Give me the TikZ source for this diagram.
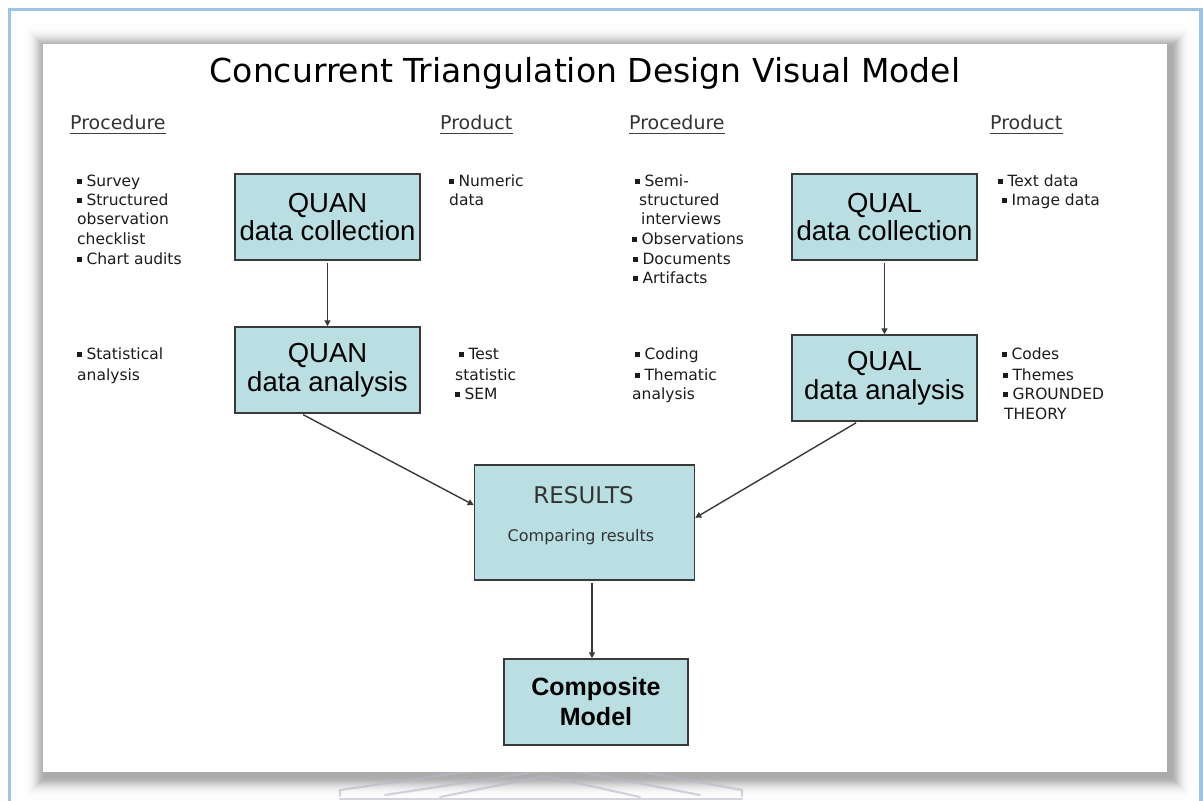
\documentclass[tikz,border=0pt]{standalone}
\usepackage{fontspec}
\setmainfont{DejaVu Sans}
\newfontfamily\arialf{Liberation Sans}
\usetikzlibrary{arrows.meta,calc}

\definecolor{boxfill}{RGB}{186,223,227}
\definecolor{boxline}{RGB}{58,58,58}
\definecolor{frameblue}{RGB}{157,195,230}
\definecolor{inktext}{RGB}{28,28,28}
\definecolor{marklogo}{RGB}{184,184,202}

% small square bullet used in the side lists
\newcommand{\bul}{\raisebox{0.26ex}{\rule{0.3em}{0.3em}}\hspace{0.3em}}

\begin{document}
\begin{tikzpicture}[x=1pt,y=-1pt,
  stage/.style={draw=boxline, line width=1.5pt, fill=boxfill, inner sep=0pt,
                minimum width=185pt, minimum height=86pt, align=center,
                font=\arialf\fontsize{27.5}{28.5}\selectfont, text=black},
  flow/.style={draw=boxline, line width=1.4pt, shorten <=2pt,
               -{Triangle[length=6pt,width=6pt]}},
  sidetxt/.style={anchor=base west, inner sep=0pt,
                  font=\fontsize{15.5}{19.5}\selectfont, text=inktext},
  colhead/.style={anchor=base west, inner sep=0pt,
                  font=\fontsize{19}{22}\selectfont, text=black!80}
]
\useasboundingbox (0,0) rectangle (1203,801);
\fill[white] (0,0) rectangle (1203,801);

% outer frame
\draw[frameblue, line width=3.5pt] (9.5,806) -- (9.5,9.5) -- (1201,9.5) -- (1201,806);

% soft drop shadow of the slide: opaque grey rings, lightest outside
\foreach \d in {24,23,...,0}{
  \pgfmathsetmacro\shadeval{33*exp(-(\d/10)^2)}
  \fill[black!\shadeval] (45-\d,47-\d) rectangle (1171+\d,777+\d);
}

% faint emblem peeking out below the slide
\begin{scope}[marklogo, line width=2.2pt, double=white!90!marklogo,
              double distance=2.2pt, line cap=round, opacity=0.6]
  \draw (340,799) -- (742,799);
  \draw (340,796) -- (340,790) -- (520,764);
  \draw (742,796) -- (742,790) -- (600,764);
  \draw (385,795) -- (560,768);
  \draw (700,795) -- (560,768);
  \draw (440,797) -- (545,776) -- (640,797);
\end{scope}

% slide
\fill[white] (43,44) rectangle (1167,772);

% title and column headings
\node[anchor=base, inner sep=0pt, font=\fontsize{33}{36}\selectfont] (title)
  at (585,82) {Concurrent Triangulation Design Visual Model};

\foreach \headx/\headtext [count=\k] in {70/Procedure, 440/Product, 629/Procedure, 990/Product}{
  \node[colhead] (head-\k) at (\headx,129) {\headtext};
  \draw[black!75, line width=0.9pt] ($(head-\k.south west)+(0,3.5)$) -- ($(head-\k.south east)+(0,3.5)$);
}

% side lists
\foreach \linex/\liney/\linetext [count=\k] in {
   77/186/{\bul Survey}, 77/205/{\bul Structured}, 77/224/{observation},
   77/244/{checklist}, 77/264/{\bul Chart audits},
   77/359/{\bul Statistical}, 77/380/{analysis},
   449/186/{\bul Numeric}, 449/205/{data},
   459/359/{\bul Test}, 455/380/{statistic}, 455/399/{\bul SEM},
   635/186/{\bul Semi-}, 639/205/{structured}, 641/224/{interviews},
   632/244/{\bul Observations}, 633/264/{\bul Documents}, 633/283/{\bul Artifacts},
   635/359/{\bul Coding}, 635/380/{\bul Thematic}, 632/399/{analysis},
   998/186/{\bul Text data}, 1002/205/{\bul Image data},
   1002/359/{\bul Codes}, 1003/380/{\bul Themes}, 1003/399/{\bul GROUNDED},
   1004/419/{THEORY}}{
  \node[sidetxt] (side-\k) at (\linex,\liney) {\linetext};
}

% process boxes
\node[stage] (qc) at (327.5,217) {QUAN\\data collection};
\node[stage] (qa) at (327.5,370) {QUAN\\data analysis};
\node[stage] (lc) at (884.5,217) {QUAL\\data collection};
\node[stage] (la) at (884.5,378) {QUAL\\data analysis};
\node[stage, minimum width=220pt, minimum height=115pt] (res) at (584.5,522.5) {};
\node[anchor=base, inner sep=0pt, font=\fontsize{23}{26}\selectfont, text=black!80]
  (res-title) at (583.5,503) {RESULTS};
\node[anchor=base, inner sep=0pt, font=\fontsize{16}{19}\selectfont, text=black!80]
  (res-sub) at (581,541) {Comparing results};
\node[stage, minimum width=184pt, font=\arialf\bfseries\fontsize{25}{30}\selectfont]
  (comp) at (596,702) {Composite\\Model};

% connectors
\draw[flow] (qc.south) -- (qa.north);
\draw[flow] (lc.south) -- (la.north);
\draw[flow] ($(qa.south west)!0.36!(qa.south east)$) -- ($(res.north west)!0.35!(res.south west)$);
\draw[flow] ($(la.south west)!0.357!(la.south east)$) -- ($(res.north east)!0.46!(res.south east)$);
\coordinate (drop) at (592,0);
\draw[flow] (res.south -| drop) -- (comp.north -| drop);
\end{tikzpicture}
\end{document}
